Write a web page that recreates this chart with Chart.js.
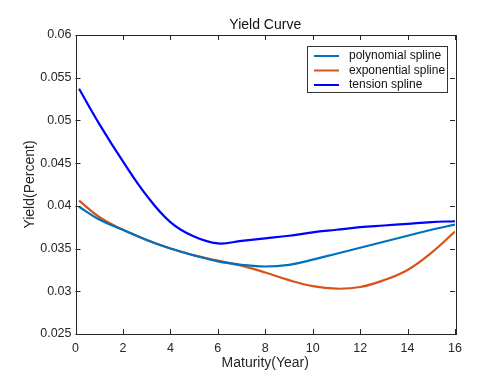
<!DOCTYPE html>
<html>
<head>
<meta charset="utf-8">
<title>Yield Curve</title>
<script src="https://cdn.jsdelivr.net/npm/chart.js@4/dist/chart.umd.min.js"></script>
<style>
  html, body { margin: 0; padding: 0; background: #fff; }
  #wrap { width: 485px; height: 377px; }
</style>
</head>
<body>
<div id="wrap"><canvas id="yield"></canvas></div>
<script>
// values
var maturities    = [0.15, 1, 2, 3, 4, 5, 6, 7, 8, 9, 10, 11, 12, 13, 14, 15, 16];
var polySpline    = [0.0399, 0.0384, 0.0372, 0.0360, 0.0350, 0.0342, 0.0335, 0.0331, 0.0329, 0.0331, 0.0337, 0.0344, 0.0351, 0.0358, 0.0365, 0.0372, 0.0378];
var expSpline     = [0.0406, 0.0387, 0.0372, 0.0360, 0.0350, 0.0342, 0.0336, 0.0330, 0.0322, 0.0313, 0.0306, 0.0303, 0.0305, 0.0313, 0.0325, 0.0345, 0.0370];
var tensionSpline = [0.0537, 0.0496, 0.0452, 0.0412, 0.0381, 0.0364, 0.0356, 0.0359, 0.0362, 0.0365, 0.0369, 0.0372, 0.0375, 0.0377, 0.0379, 0.0381, 0.0382];
var seriesNames   = ['polynomial spline', 'exponential spline', 'tension spline'];
var xTicks = [0, 2, 4, 6, 8, 10, 12, 14, 16];
var yTicks = [0.025, 0.03, 0.035, 0.04, 0.045, 0.05, 0.055, 0.06];

var colors = ['#0072BD', '#D95319', '#0000FF'];
var axisColor = '#262626';
var fontFam = "'Liberation Sans', Arial, sans-serif";

function points(ys) {
  return maturities.map(function (x, i) { return { x: x, y: ys[i] }; });
}

// MATLAB-like box with inward ticks, title over the axes, boxed legend
var boxPlugin = {
  id: 'boxPlugin',
  afterDatasetsDraw: function (chart) {
    var ctx = chart.ctx, a = chart.chartArea;
    var xs = chart.scales.x, ys = chart.scales.y;
    var tl = 5;
    ctx.save();
    ctx.strokeStyle = axisColor;
    ctx.lineWidth = 1;
    ctx.strokeRect(Math.round(a.left) + 0.5, Math.round(a.top) + 0.5,
                   Math.round(a.right - a.left), Math.round(a.bottom - a.top));
    ctx.beginPath();
    xTicks.forEach(function (v) {
      var px = Math.round(xs.getPixelForValue(v)) + 0.5;
      ctx.moveTo(px, a.bottom); ctx.lineTo(px, a.bottom - tl);
      ctx.moveTo(px, a.top); ctx.lineTo(px, a.top + tl);
    });
    yTicks.forEach(function (v) {
      var py = Math.round(ys.getPixelForValue(v)) + 0.5;
      ctx.moveTo(a.left, py); ctx.lineTo(a.left + tl, py);
      ctx.moveTo(a.right, py); ctx.lineTo(a.right - tl, py);
    });
    ctx.stroke();

    // title, centred over the plot area
    ctx.fillStyle = '#111';
    ctx.font = '14px ' + fontFam;
    ctx.textAlign = 'center';
    ctx.textBaseline = 'middle';
    ctx.fillText('Yield Curve', (a.left + a.right) / 2, 25);

    // legend
    var lx = 307.5, ly = 46.5, lw = 140, lh = 46;
    ctx.fillStyle = '#fff';
    ctx.fillRect(lx, ly, lw, lh);
    ctx.strokeStyle = '#333';
    ctx.lineWidth = 1;
    ctx.strokeRect(lx, ly, lw, lh);
    ctx.font = '12px ' + fontFam;
    ctx.textAlign = 'left';
    seriesNames.forEach(function (name, i) {
      var ry = 56 + i * 14.5;
      ctx.strokeStyle = colors[i];
      ctx.lineWidth = 2;
      ctx.beginPath();
      ctx.moveTo(314, ry); ctx.lineTo(339, ry);
      ctx.stroke();
      ctx.fillStyle = '#111';
      ctx.fillText(name, 349, ry);
    });
    ctx.restore();
  }
};

new Chart(document.getElementById('yield'), {
  type: 'scatter',
  data: {
    datasets: [
      { label: seriesNames[0], data: points(polySpline), borderColor: colors[0] },
      { label: seriesNames[1], data: points(expSpline), borderColor: colors[1] },
      { label: seriesNames[2], data: points(tensionSpline), borderColor: colors[2] }
    ]
  },
  options: {
    responsive: true,
    maintainAspectRatio: false,
    animation: false,
    devicePixelRatio: 1,
    layout: { padding: { left: 0, right: 30, top: 35, bottom: 0 } },
    elements: {
      point: { radius: 0, hoverRadius: 0 },
      line: { borderWidth: 2.2, tension: 0.4, fill: false }
    },
    showLine: true,
    plugins: {
      legend: { display: false },
      tooltip: { enabled: false },
      title: { display: false }
    },
    scales: {
      x: {
        type: 'linear', min: 0, max: 16,
        afterBuildTicks: function (s) { s.ticks = xTicks.map(function (v) { return { value: v }; }); },
        ticks: { color: axisColor, padding: 7, font: { family: fontFam, size: 12.5 } },
        grid: { display: false, drawTicks: false },
        border: { display: false },
        title: {
          display: true, text: 'Maturity(Year)', color: axisColor,
          font: { family: fontFam, size: 14 }, padding: { top: 0, bottom: 5 }
        },
        afterFit: function (s) { s.height = 43; }
      },
      y: {
        type: 'linear', min: 0.025, max: 0.06,
        afterBuildTicks: function (s) { s.ticks = yTicks.map(function (v) { return { value: v }; }); },
        ticks: {
          color: axisColor, padding: 4, font: { family: fontFam, size: 12.5 },
          callback: function (v) { return String(+v.toFixed(3)); }
        },
        grid: { display: false, drawTicks: false },
        border: { display: false },
        title: {
          display: true, text: 'Yield(Percent)', color: axisColor,
          font: { family: fontFam, size: 14 }, padding: { top: 22, bottom: 0 }
        },
        afterFit: function (s) { s.width = 75.5; }
      }
    }
  },
  plugins: [boxPlugin]
});
</script>
</body>
</html>
